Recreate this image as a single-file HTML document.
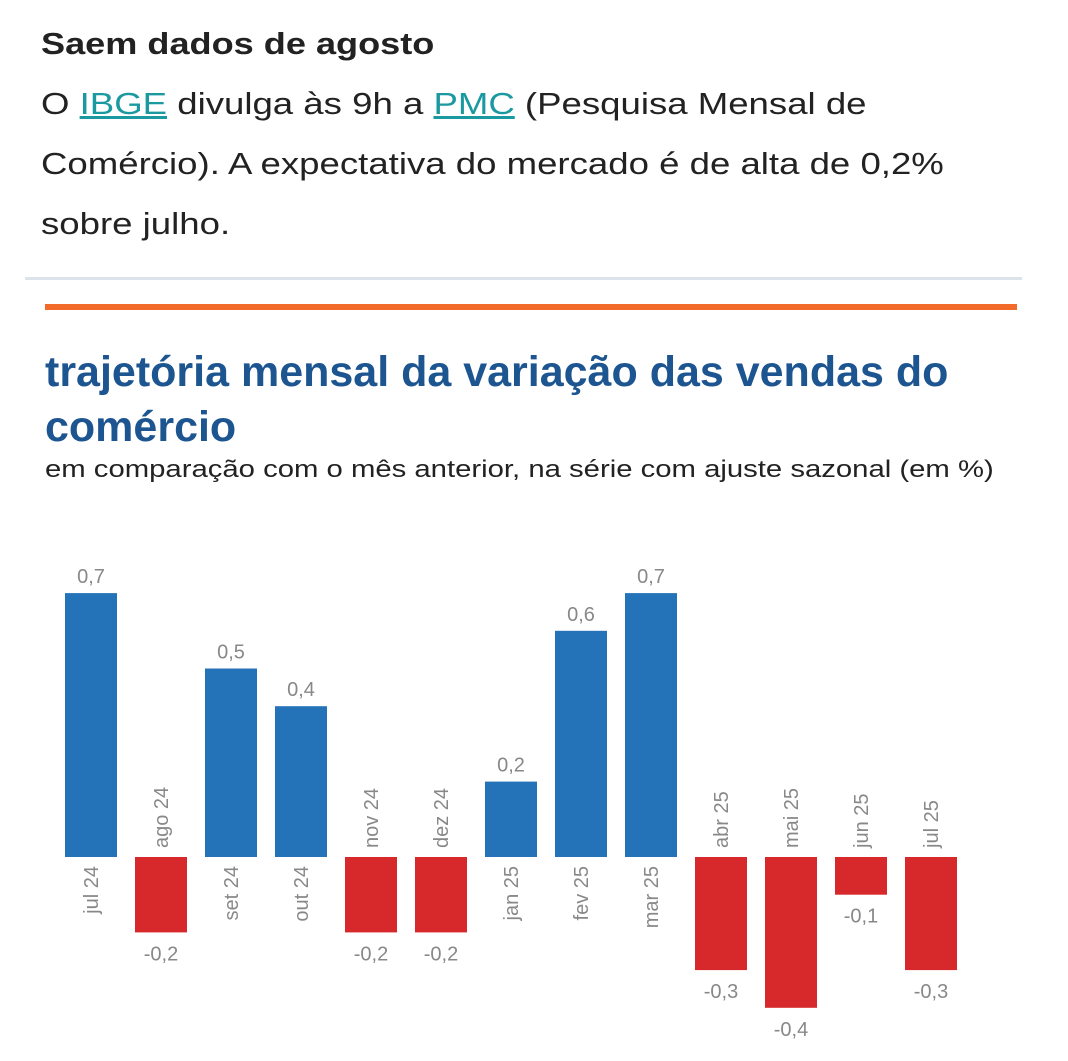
<!DOCTYPE html>
<html><head><meta charset="utf-8"><style>
body{margin:0;background:#fff;width:1068px;height:1061px;overflow:hidden;font-family:"Liberation Sans",sans-serif;}
.t{position:absolute;left:41px;font-size:31px;color:#222;transform:scaleX(1.18);transform-origin:0 0;white-space:nowrap;}
a{color:#1a9aa0;text-decoration:underline;}
</style></head><body>
<div class="t" style="top:26px;font-weight:bold;transform:scaleX(1.165);">Saem dados de agosto</div>
<div class="t" style="top:86px;">O <a>IBGE</a> divulga às 9h a <a>PMC</a> (Pesquisa Mensal de</div>
<div class="t" style="top:146px;">Comércio). A expectativa do mercado é de alta de 0,2%</div>
<div class="t" style="top:206px;">sobre julho.</div>
<div style="position:absolute;left:25px;top:277px;width:997px;height:3px;background:#dde3ea"></div>
<div style="position:absolute;left:45px;top:304px;width:972px;height:6px;background:#f26b2a"></div>
<div style="position:absolute;left:45px;top:345px;font-size:43px;font-weight:bold;color:#1d5590;line-height:55px;white-space:nowrap;">trajetória mensal da variação das vendas do<br>comércio</div>
<div style="position:absolute;left:45px;top:456px;font-size:24px;color:#222;transform:scaleX(1.22);transform-origin:0 0;white-space:nowrap;">em comparação com o mês anterior, na série com ajuste sazonal (em %)</div>
<svg style="position:absolute;left:0;top:0" width="1068" height="1061" font-family="Liberation Sans, sans-serif" font-size="20">
<g id="bars"></g>
</svg>
<script>
var d=[["jul 24",.7],["ago 24",-.2],["set 24",.5],["out 24",.4],["nov 24",-.2],["dez 24",-.2],["jan 25",.2],["fev 25",.6],["mar 25",.7],["abr 25",-.3],["mai 25",-.4],["jun 25",-.1],["jul 25",-.3]];
var s="",z=857,u=377;
d.forEach(function(e,i){var x=65+i*70,v=e[1],h=Math.abs(v)*u,cx=x+26,lab=String(v).replace(".",",");
if(v>0){s+='<rect x="'+x+'" y="'+(z-h)+'" width="52" height="'+h+'" fill="#2473b8"/>';
s+='<text x="'+cx+'" y="'+(z-h-10)+'" text-anchor="middle" fill="#888">'+lab+'</text>';
s+='<text transform="translate('+(cx+7)+',866) rotate(-90)" text-anchor="end" fill="#888">'+e[0]+'</text>';}
else{s+='<rect x="'+x+'" y="'+z+'" width="52" height="'+h+'" fill="#d7282b"/>';
s+='<text x="'+cx+'" y="'+(z+h+28)+'" text-anchor="middle" fill="#888">'+lab+'</text>';
s+='<text transform="translate('+(cx+7)+',848) rotate(-90)" text-anchor="start" fill="#888">'+e[0]+'</text>';}
});
document.getElementById("bars").innerHTML=s;
</script>
</body></html>
